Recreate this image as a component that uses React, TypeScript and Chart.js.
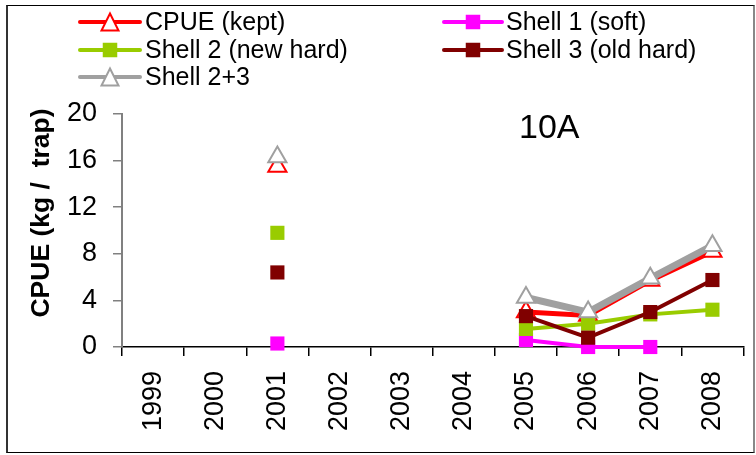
import React, { useEffect, useRef } from "react";
import { Chart, registerables } from "chart.js";

Chart.register(...registerables);

const years = ["1999", "2000", "2001", "2002", "2003", "2004", "2005", "2006", "2007", "2008"];
const cpueKept = [null, null, 15.5, null, null, null, 3.0, 2.7, 5.7, 8.2];
const shell1Soft = [null, null, 0.3, null, null, null, 0.6, 0.0, 0.0, null];
const shell2NewHard = [null, null, 9.8, null, null, null, 1.55, 2.0, 2.8, 3.2];
const shell3OldHard = [null, null, 6.4, null, null, null, 2.65, 0.8, 3.0, 5.75];
const shell23 = [null, null, 16.3, null, null, null, 4.25, 3.0, 5.9, 8.7];
const seriesLabels = ["CPUE (kept)", "Shell 1 (soft)", "Shell 2 (new hard)", "Shell 3 (old hard)", "Shell 2+3"];
const yTicks = [0, 4, 8, 12, 16, 20];
const yTitle = "CPUE (kg /  trap)";
const panelLabel = "10A";

const FONT = "'Liberation Sans', Arial, sans-serif";

function drawMarker(ctx: CanvasRenderingContext2D, style: string, x: number, y: number, r: number, fill: string, stroke: string, bw: number) {
  ctx.save();
  ctx.beginPath();
  if (style === "triangle") {
    const h = r * 1.7;
    const w = r * 1.7;
    ctx.moveTo(x, y - h / 2);
    ctx.lineTo(x + w / 2, y + h / 2);
    ctx.lineTo(x - w / 2, y + h / 2);
    ctx.closePath();
  } else {
    const s = r * 1.25;
    ctx.rect(x - s / 2, y - s / 2, s, s);
  }
  ctx.fillStyle = fill;
  ctx.fill();
  ctx.lineWidth = bw;
  ctx.strokeStyle = stroke;
  ctx.stroke();
  ctx.restore();
}

const overlayPlugin = {
  id: "overlay",
  afterDraw(chart: any) {
    const ctx: CanvasRenderingContext2D = chart.ctx;
    // Legend
    const cols = [{ x0: 80, x1: 140, tx: 145 }, { x0: 444, x1: 502, tx: 506 }];
    const rows = [22, 50, 77];
    chart.data.datasets.forEach((ds: any, i: number) => {
      const c = cols[i % 2];
      const yy = rows[Math.floor(i / 2)];
      ctx.save();
      ctx.strokeStyle = ds.borderColor;
      ctx.lineWidth = 4;
      ctx.lineCap = "round";
      ctx.beginPath();
      ctx.moveTo(c.x0, yy);
      ctx.lineTo(c.x1, yy);
      ctx.stroke();
      ctx.restore();
      drawMarker(ctx, ds.pointStyle, (c.x0 + c.x1) / 2, yy, 10, ds.pointBackgroundColor, ds.pointBorderColor, 2);
      ctx.save();
      ctx.fillStyle = "#000";
      ctx.font = `25px ${FONT}`;
      ctx.textBaseline = "middle";
      ctx.textAlign = "left";
      ctx.fillText(ds.label, c.tx, yy + 1);
      ctx.restore();
    });
    // Y title
    ctx.save();
    ctx.translate(42, 213);
    ctx.rotate(-Math.PI / 2);
    ctx.font = `bold 26.5px ${FONT}`;
    ctx.fillStyle = "#000";
    ctx.textAlign = "center";
    ctx.textBaseline = "middle";
    ctx.fillText(yTitle, 0, 0);
    ctx.restore();
    // Panel label
    ctx.save();
    ctx.font = `34px ${FONT}`;
    ctx.fillStyle = "#000";
    ctx.textAlign = "left";
    ctx.textBaseline = "middle";
    ctx.fillText(panelLabel, 519, 129);
    ctx.restore();
  },
};

export default function App() {
  const ref = useRef<HTMLCanvasElement | null>(null);
  useEffect(() => {
    if (!ref.current) return;
    const mk = (label: string, data: any[], color: string, width: number, style: string, order: number) => ({
      label,
      data,
      borderColor: color,
      backgroundColor: color,
      borderWidth: width,
      pointStyle: style,
      pointRadius: style === "triangle" ? 10.5 : 10,
      pointBackgroundColor: style === "triangle" ? "#FFFFFF" : color,
      pointBorderColor: color,
      pointBorderWidth: style === "triangle" ? 2 : 0,
      tension: 0,
      spanGaps: false,
      clip: false,
      order,
    });
    const chart = new Chart(ref.current, {
      type: "line",
      data: {
        labels: years,
        datasets: [
          mk(seriesLabels[0], cpueKept, "#FF0000", 5, "triangle", 4),
          mk(seriesLabels[1], shell1Soft, "#FF00FF", 4, "rect", 3),
          mk(seriesLabels[2], shell2NewHard, "#99CC00", 4, "rect", 2),
          mk(seriesLabels[3], shell3OldHard, "#800000", 4, "rect", 1),
          mk(seriesLabels[4], shell23, "#A0A0A0", 7, "triangle", 0),
        ] as any,
      },
      options: {
        animation: false,
        responsive: true,
        maintainAspectRatio: false,
        layout: { padding: { top: 114, right: 4, left: 0, bottom: 0 } },
        plugins: { legend: { display: false }, tooltip: { enabled: false } },
        scales: {
          x: {
            type: "category",
            offset: true,
            grid: { offset: true, drawOnChartArea: false, drawTicks: true, tickLength: 9, color: "#000000", lineWidth: 1.5 },
            border: { color: "#000000", width: 1.5 },
            ticks: {
              color: "#000000",
              font: { family: FONT, size: 27 },
              minRotation: 90,
              maxRotation: 90,
              padding: 15,
              autoSkip: false,
            },
            afterFit(scale: any) {
              scale.height = 108;
              scale.paddingLeft = 0;
              scale.paddingRight = 0;
            },
          },
          y: {
            min: 0,
            max: 20,
            afterBuildTicks(scale: any) {
              scale.ticks = yTicks.map((v) => ({ value: v }));
            },
            grid: { drawOnChartArea: false, drawTicks: true, tickLength: 9, color: "#808080", lineWidth: 1.5 },
            border: { color: "#808080", width: 2 },
            ticks: { color: "#000000", font: { family: FONT, size: 27 }, padding: 16 },
            afterFit(scale: any) {
              scale.width = 122;
              scale.paddingTop = 0;
              scale.paddingBottom = 0;
            },
          },
        },
      },
      plugins: [overlayPlugin],
    });
    return () => chart.destroy();
  }, []);
  return (
    <div style={{ position: "fixed", left: 0, top: 0, width: 756, height: 455, background: "#FFFFFF" }}>
      <canvas ref={ref} />
      <div
        style={{
          position: "absolute",
          left: 6,
          top: 5,
          width: 745,
          height: 446,
          borderLeft: "2px solid #333333",
          borderTop: "1px solid #000000",
          borderRight: "2px solid #888888",
          borderBottom: "1px solid #000000",
          pointerEvents: "none",
        }}
      />
    </div>
  );
}
